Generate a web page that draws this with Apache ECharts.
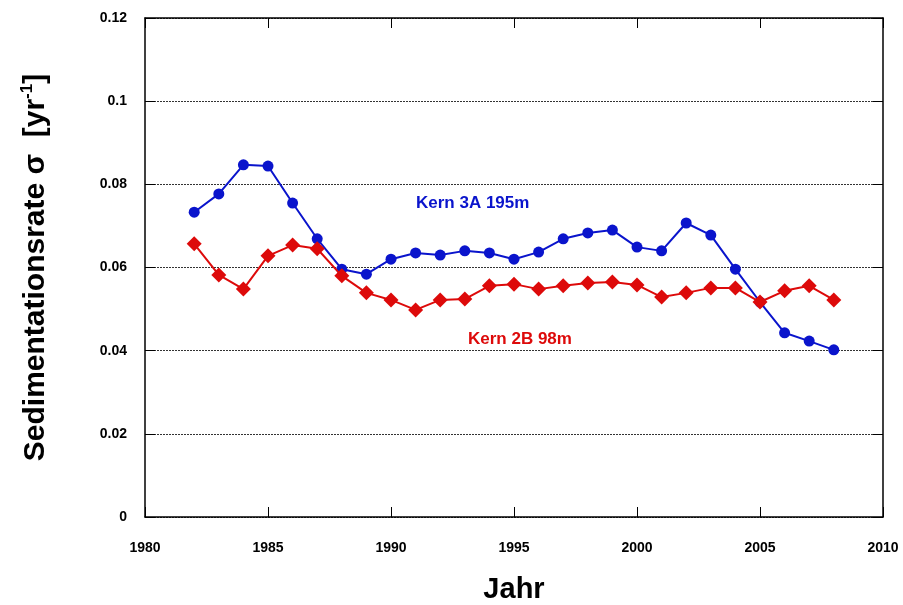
<!DOCTYPE html>
<html>
<head>
<meta charset="utf-8">
<script src="https://cdn.jsdelivr.net/npm/echarts@6/dist/echarts.min.js"></script>
<style>
  html, body { margin: 0; padding: 0; background: #fff; }
  #chart { width: 903px; height: 605px; }
</style>
</head>
<body>
<div id="chart"></div>
<script>
// Sedimentation rate per year for two sediment cores
const years = [1982, 1983, 1984, 1985, 1986, 1987, 1988, 1989, 1990, 1991, 1992, 1993, 1994,
  1995, 1996, 1997, 1998, 1999, 2000, 2001, 2002, 2003, 2004, 2005, 2006, 2007, 2008];
const kern3A = [0.0733, 0.0777, 0.0847, 0.0844, 0.0755, 0.0669, 0.0596, 0.0584, 0.0620, 0.0635,
  0.0630, 0.0640, 0.0635, 0.0620, 0.0637, 0.0669, 0.0683, 0.0690, 0.0649, 0.0640, 0.0707, 0.0678,
  0.0596, 0.0517, 0.0443, 0.0423, 0.0402];
const kern2B = [0.0657, 0.0582, 0.0548, 0.0628, 0.0654, 0.0645, 0.0580, 0.0539, 0.0522, 0.0498,
  0.0522, 0.0524, 0.0556, 0.0560, 0.0548, 0.0556, 0.0563, 0.0565, 0.0558, 0.0529, 0.0539, 0.0551,
  0.0551, 0.0517, 0.0544, 0.0556, 0.0522];
const yTicks = ['0', '0.02', '0.04', '0.06', '0.08', '0.1', '0.12'];

const FONT = 'Liberation Sans, Arial, sans-serif';
const BLUE = '#0a14cc';
const RED = '#dd0a0a';

const pair = (xs, ys) => xs.map((x, i) => [x, ys[i]]);

const chart = echarts.init(document.getElementById('chart'), null, { renderer: 'canvas' });

// Frame lines stay on the plot edges; ticks point into the plot
const frameLine = { show: true, onZero: false, lineStyle: { color: '#000', width: 1.5 } };
const innerTick = { show: true, inside: true, length: 10, lineStyle: { color: '#000', width: 1 } };

chart.setOption({
  animation: false,
  backgroundColor: '#fff',
  grid: { left: 145, right: 20, top: 18, bottom: 88, containLabel: false, outerBoundsMode: 'none' },
  xAxis: [{
    type: 'value', min: 1980, max: 2010, interval: 5,
    axisLine: frameLine, axisTick: innerTick,
    splitLine: { show: false },
    axisLabel: {
      margin: 24, color: '#000', fontFamily: FONT, fontWeight: 'bold', fontSize: 14,
      formatter: (v) => String(v)
    },
    name: 'Jahr', nameLocation: 'middle', nameGap: 58,
    nameTextStyle: { color: '#000', fontFamily: FONT, fontWeight: 'bold', fontSize: 29 }
  }, {
    type: 'value', position: 'top', min: 1980, max: 2010, interval: 5,
    axisLine: frameLine, axisTick: innerTick, axisLabel: { show: false }, splitLine: { show: false }
  }],
  yAxis: [{
    type: 'value', min: 0, max: 0.12, interval: 0.02,
    axisLine: frameLine, axisTick: innerTick,
    splitLine: { show: true, lineStyle: { color: '#333', width: 1, type: [2, 1] } },
    axisLabel: {
      margin: 18, color: '#000', fontFamily: FONT, fontWeight: 'bold', fontSize: 14,
      formatter: (v) => yTicks[Math.round(v / 0.02)]
    },
    name: '{a|Sedimentationsrate σ  [yr}{s|-1}{a|]}',
    nameLocation: 'middle', nameRotate: 90, nameGap: 92,
    nameTextStyle: {
      rich: {
        a: { color: '#000', fontFamily: FONT, fontWeight: 'bold', fontSize: 30, lineHeight: 35 },
        s: { color: '#000', fontFamily: FONT, fontWeight: 'bold', fontSize: 17, lineHeight: 35, padding: [0, 0, 17, 0] }
      }
    }
  }, {
    type: 'value', position: 'right', min: 0, max: 0.12, interval: 0.02,
    axisLine: frameLine, axisTick: innerTick, axisLabel: { show: false }, splitLine: { show: false }
  }],
  series: [{
    name: 'Kern 3A 195m', type: 'line', data: pair(years, kern3A),
    symbol: 'circle', symbolSize: 11,
    lineStyle: { color: BLUE, width: 2 }, itemStyle: { color: BLUE }, z: 3
  }, {
    name: 'Kern 2B 98m', type: 'line', data: pair(years, kern2B),
    symbol: 'diamond', symbolSize: 15,
    lineStyle: { color: RED, width: 2 }, itemStyle: { color: RED }, z: 4
  }],
  graphic: [{
    type: 'text', left: 416, top: 195,
    style: { text: 'Kern 3A 195m', fill: BLUE, font: 'bold 17px ' + FONT }
  }, {
    type: 'text', left: 468, top: 331,
    style: { text: 'Kern 2B 98m', fill: RED, font: 'bold 17px ' + FONT }
  }]
});
</script>
</body>
</html>
